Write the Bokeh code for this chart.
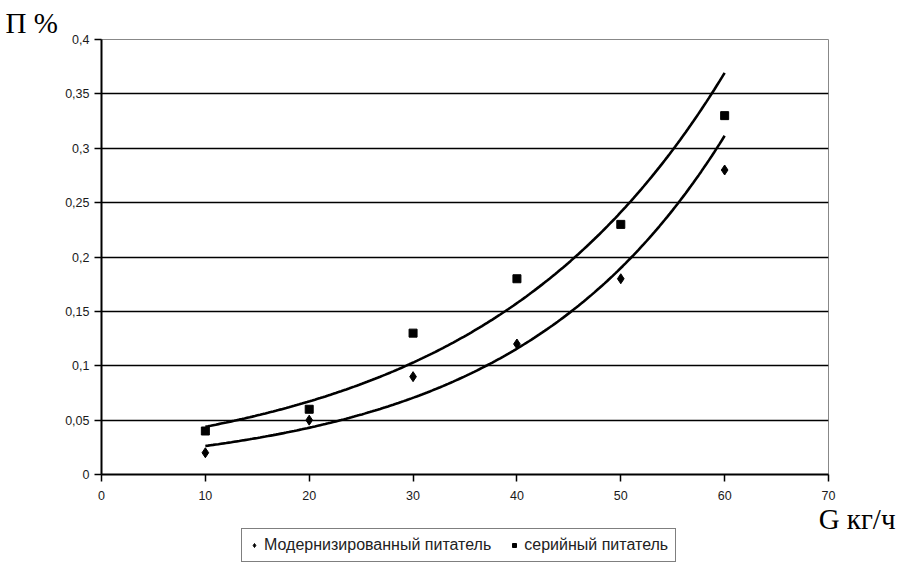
import numpy as np
from bokeh.plotting import figure
from bokeh.layouts import column
from bokeh.models import (Range1d, FixedTicker, CustomJSTickFormatter, Legend, LegendItem, Title)
from bokeh.embed import file_html
from bokeh.resources import INLINE

# data
g_values = [10, 20, 30, 40, 50, 60]
modern = [0.02, 0.05, 0.09, 0.12, 0.18, 0.28]
serial = [0.04, 0.06, 0.13, 0.18, 0.23, 0.33]
x_ticks = [0, 10, 20, 30, 40, 50, 60, 70]
y_ticks = [0, 0.05, 0.1, 0.15, 0.2, 0.25, 0.3, 0.35, 0.4]
legend_labels = ["Модернизированный питатель", "серийный питатель"]

p = figure(frame_width=727, frame_height=435, output_backend="svg", toolbar_location=None,
           x_range=Range1d(0, 70), y_range=Range1d(0, 0.4),
           min_border_left=101, min_border_top=39, min_border_right=70, min_border_bottom=34)
p.background_fill_color = "white"
p.border_fill_color = "white"
p.outline_line_color = "#888888"
p.outline_line_width = 1

p.xgrid.grid_line_color = None
p.ygrid.grid_line_color = "black"
p.ygrid.grid_line_width = 1.5
p.ygrid.ticker = FixedTicker(ticks=y_ticks)

fmt = CustomJSTickFormatter(code="return String(Math.round(tick*100)/100).replace('.', ',');")
for ax, ticks in ((p.xaxis[0], x_ticks), (p.yaxis[0], y_ticks)):
    ax.ticker = FixedTicker(ticks=ticks)
    ax.formatter = fmt
    ax.axis_line_color = "black"
    ax.axis_line_width = 2
    ax.major_tick_line_color = "black"
    ax.major_tick_line_width = 1.5
    ax.major_tick_out = 7
    ax.major_tick_in = 0
    ax.minor_tick_line_color = None
    ax.major_label_text_font = "Liberation Sans"
    ax.major_label_text_font_size = "12.5px"
    ax.major_label_text_color = "#1a1a1a"
p.xaxis.major_label_standoff = 9
p.yaxis.major_label_standoff = 5

# exponential trend lines fitted from the data
xs = np.linspace(g_values[0], g_values[-1], 200)
for series in (modern, serial):
    b, a = np.polyfit(g_values, np.log(series), 1)
    p.line(xs, np.exp(a + b * xs), line_color="black", line_width=2.6)

p.scatter(g_values, modern, marker="diamond", size=10, color="black")
p.scatter(g_values, serial, marker="square", size=8, color="black")

p.add_layout(Title(text="П %", align="left", offset=-96, text_font="Liberation Serif",
                   text_font_size="29px", text_font_style="normal", text_color="black",
                   standoff=2), "above")

# lower strip: axis name and legend
p2 = figure(width=898, height=64, output_backend="svg", toolbar_location=None,
            x_range=Range1d(100, 200), y_range=Range1d(100, 200),
            x_axis_type=None, y_axis_type=None, min_border=0)
p2.outline_line_color = None
p2.grid.grid_line_color = None
p2.background_fill_color = None
p2.border_fill_color = None

# legend swatches (data lies outside this strip's ranges, so only the legend shows them)
l1 = p2.scatter(g_values, modern, marker="diamond", size=9, color="black")
l2 = p2.scatter(g_values, serial, marker="square", size=7, color="black")
legend = Legend(items=[LegendItem(label=legend_labels[0], renderers=[l1]),
                       LegendItem(label=legend_labels[1], renderers=[l2])],
                orientation="horizontal", location=(140, 10),
                border_line_color="black", border_line_width=1.5,
                label_text_font="Liberation Sans", label_text_font_size="16px",
                label_text_color="#222222",
                glyph_width=10, glyph_height=10, label_standoff=5, spacing=18,
                padding=7, margin=0, label_height=17)
p2.add_layout(legend, "center")

p2.add_layout(Title(text="G кг/ч", align="right", offset=-67, text_font="Liberation Serif",
                    text_font_size="29px", text_font_style="normal", text_color="black",
                    vertical_align="bottom", standoff=-16), "above")

open("out.html", "w").write(file_html(column(p, p2, spacing=0), INLINE))
